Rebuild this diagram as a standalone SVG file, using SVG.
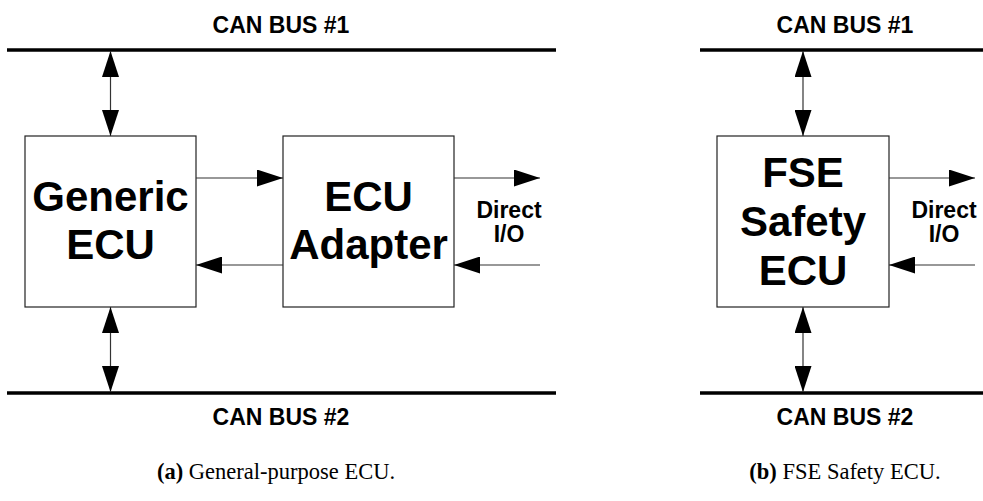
<svg xmlns="http://www.w3.org/2000/svg" width="983" height="501" viewBox="0 0 983 501">
<defs>
<style>
.bus{stroke:#000;stroke-width:3.5;fill:none}
.box{fill:#fff;stroke:#222;stroke-width:1.2}
.ln{stroke:#333;stroke-width:1.2;fill:none}
.lbl{font-family:"Liberation Sans",Arial,sans-serif;font-weight:bold;fill:#000;text-anchor:middle}
.big{font-size:42px}
.bus-t{font-size:23px}
.io{font-size:23px}
.cap{font-family:"Liberation Serif","Times New Roman",serif;font-size:22.5px;fill:#000;text-anchor:middle}
</style>
<marker id="ah" viewBox="0 0 26 17" refX="26" refY="8.5" markerWidth="26" markerHeight="17" markerUnits="userSpaceOnUse" orient="auto-start-reverse">
<path d="M0,0 L26,8.5 L0,17 Z" fill="#000"/>
</marker>
</defs>
<rect width="983" height="501" fill="#fff"/>
<g id="bus1a"><line class="bus" x1="7" y1="50" x2="556" y2="50"/><text class="lbl bus-t" x="281" y="33">CAN BUS #1</text></g>
<g id="bus2a"><line class="bus" x1="7" y1="393" x2="556" y2="393"/><text class="lbl bus-t" x="281" y="425">CAN BUS #2</text></g>
<g id="bus1b"><line class="bus" x1="700" y1="50" x2="983" y2="50"/><text class="lbl bus-t" x="845" y="33">CAN BUS #1</text></g>
<g id="bus2b"><line class="bus" x1="700" y1="393" x2="983" y2="393"/><text class="lbl bus-t" x="845" y="425">CAN BUS #2</text></g>
<g id="generic-ecu"><rect class="box" x="25" y="136" width="171" height="171"/><text class="lbl big" x="110.5" y="211">Generic</text><text class="lbl big" x="110.5" y="259">ECU</text></g>
<g id="ecu-adapter"><rect class="box" x="283" y="136" width="171" height="171"/><text class="lbl big" x="368.5" y="211">ECU</text><text class="lbl big" x="368.5" y="259">Adapter</text></g>
<g id="fse-ecu"><rect class="box" x="717" y="136" width="172" height="171"/><text class="lbl big" x="803" y="187">FSE</text><text class="lbl big" x="803" y="236">Safety</text><text class="lbl big" x="803" y="285">ECU</text></g>
<g id="io-a"><text class="lbl io" x="509" y="218">Direct</text><text class="lbl io" x="509" y="242">I/O</text></g>
<g id="io-b"><text class="lbl io" x="944" y="218">Direct</text><text class="lbl io" x="944" y="242">I/O</text></g>
<g id="connectors">
<line class="ln" x1="110.5" y1="51" x2="110.5" y2="136" marker-start="url(#ah)" marker-end="url(#ah)"/>
<line class="ln" x1="110.5" y1="307" x2="110.5" y2="392" marker-start="url(#ah)" marker-end="url(#ah)"/>
<line class="ln" x1="196" y1="178" x2="283" y2="178" marker-end="url(#ah)"/>
<line class="ln" x1="283" y1="265" x2="196" y2="265" marker-end="url(#ah)"/>
<line class="ln" x1="454" y1="178" x2="540" y2="178" marker-end="url(#ah)"/>
<line class="ln" x1="540" y1="265" x2="454" y2="265" marker-end="url(#ah)"/>
<line class="ln" x1="803" y1="51" x2="803" y2="136" marker-start="url(#ah)" marker-end="url(#ah)"/>
<line class="ln" x1="803" y1="307" x2="803" y2="392" marker-start="url(#ah)" marker-end="url(#ah)"/>
<line class="ln" x1="889" y1="178" x2="975" y2="178" marker-end="url(#ah)"/>
<line class="ln" x1="975" y1="265" x2="889" y2="265" marker-end="url(#ah)"/>
</g>
<text class="cap" x="276" y="479"><tspan font-weight="bold">(a)</tspan> General-purpose ECU.</text>
<text class="cap" x="845" y="479"><tspan font-weight="bold">(b)</tspan> FSE Safety ECU.</text>
</svg>
